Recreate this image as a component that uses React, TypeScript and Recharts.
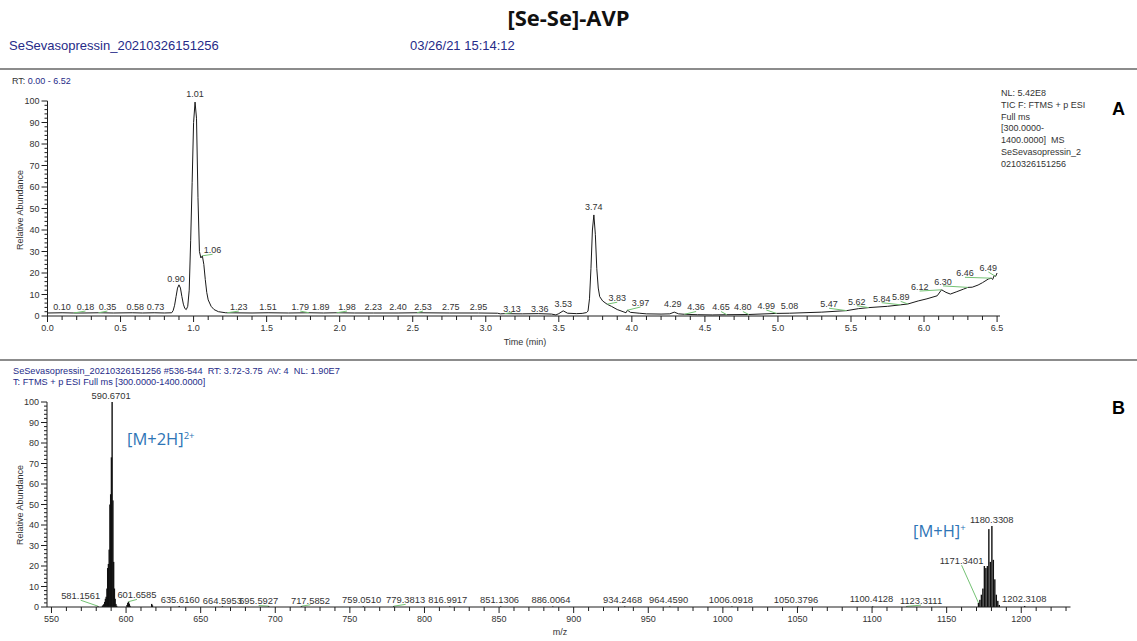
import React from 'react';
import { ComposedChart, Line, Bar, XAxis, YAxis, ReferenceDot, ReferenceLine } from 'recharts';

const FONT = '"Liberation Sans", Arial, Helvetica, sans-serif';
const NAVY = '#262b88';
const GREEN = '#74c274';
const AXIS = '#1e1e1e';
const TXT = '#333';
const BLUE = '#2e75b6';

// ---------- Panel A: TIC chromatogram ----------
const rtTimes = [
  0.00, 0.10, 0.18, 0.25, 0.35, 0.45, 0.58, 0.65, 0.73, 0.80, 0.85,
  0.86, 0.87, 0.88, 0.89, 0.90, 0.91, 0.92, 0.93, 0.94, 0.95, 0.96, 0.97, 0.98, 0.99,
  1.00, 1.01, 1.02, 1.03, 1.04, 1.05, 1.06, 1.07, 1.08, 1.09, 1.10, 1.12, 1.14, 1.17,
  1.22, 1.23, 1.40, 1.51, 1.65, 1.79, 1.89, 1.98, 2.10, 2.23, 2.40, 2.53, 2.75, 2.95,
  3.08, 3.10, 3.13, 3.25, 3.36, 3.45, 3.48, 3.50, 3.53, 3.56, 3.62, 3.66, 3.69,
  3.70, 3.71, 3.72, 3.73, 3.74, 3.75, 3.76, 3.77, 3.78, 3.80, 3.83, 3.86, 3.90, 3.94,
  3.96, 3.97, 3.99, 4.05, 4.10, 4.20, 4.26, 4.29, 4.32, 4.36, 4.45, 4.55, 4.65, 4.80,
  4.99, 5.08, 5.30, 5.47, 5.55, 5.62, 5.75, 5.84, 5.89, 5.96, 6.02, 6.09, 6.12, 6.15,
  6.18, 6.22, 6.27, 6.30, 6.33, 6.37, 6.40, 6.44, 6.46, 6.47, 6.48, 6.49, 6.50,
];
const rtAbundance = [
  1.4, 1.5, 1.4, 1.4, 1.5, 1.4, 1.5, 1.4, 1.5, 1.4, 1.5,
  2.5, 5, 9, 13, 14.5, 13, 9, 5.5, 3.5, 3, 4.5, 12, 35, 62,
  90, 99.5, 92, 55, 30, 27, 28, 24, 17, 11, 7.5, 4.5, 3, 2,
  1.5, 1.5, 1.4, 1.5, 1.4, 1.5, 1.4, 1.5, 1.4, 1.4, 1.4, 1.5, 1.4, 1.4,
  1.3, 1.0, 1.1, 1.0, 1.1, 0.9, 0.5, 1.1, 2.4, 1.3, 1.1, 1.2, 1.6,
  2.3, 8, 22, 40, 47, 38, 22, 13, 9, 7, 5.5, 4.5, 3, 2,
  1.5, 2.7, 1.7, 1.3, 1.0, 0.9, 1.0, 1.8, 1.0, 0.8, 0.6, 0.5, 0.6, 0.7,
  1.2, 1.3, 1.8, 2.5, 3.4, 3.9, 4.5, 5.2, 5.6, 7.0, 8.0, 9.4, 12.2, 11.0,
  10.2, 11.2, 12.5, 13.3, 13.4, 14.4, 15.5, 17.2, 17.6, 17.0, 18.8, 18.4, 20.0,
];
// [label, peak time, label centre time, label height]
const rtLabels: [string, number, number, number][] = [
  ['0.10', 0.10, 0.10, 4.3], ['0.18', 0.18, 0.26, 4.3], ['0.35', 0.35, 0.41, 4.3],
  ['0.58', 0.58, 0.60, 4.3], ['0.73', 0.73, 0.74, 4.3], ['0.90', 0.90, 0.88, 17.5],
  ['1.01', 1.01, 1.01, 103.6], ['1.06', 1.06, 1.13, 30.7], ['1.23', 1.23, 1.31, 4.3],
  ['1.51', 1.51, 1.51, 4.3], ['1.79', 1.79, 1.73, 4.3], ['1.89', 1.89, 1.87, 4.3],
  ['1.98', 1.98, 2.05, 4.3], ['2.23', 2.23, 2.23, 4.3], ['2.40', 2.40, 2.40, 4.3],
  ['2.53', 2.53, 2.57, 4.3], ['2.75', 2.75, 2.76, 4.3], ['2.95', 2.95, 2.95, 4.3],
  ['3.13', 3.13, 3.18, 3.6], ['3.36', 3.36, 3.37, 3.6], ['3.53', 3.53, 3.53, 5.9],
  ['3.74', 3.74, 3.74, 50.8], ['3.83', 3.83, 3.90, 8.4], ['3.97', 3.97, 4.06, 6.2],
  ['4.29', 4.29, 4.28, 5.6], ['4.36', 4.36, 4.44, 4.1], ['4.65', 4.65, 4.61, 4.1],
  ['4.80', 4.80, 4.76, 4.1], ['4.99', 4.99, 4.92, 4.8], ['5.08', 5.08, 5.08, 4.6],
  ['5.47', 5.47, 5.35, 5.6], ['5.62', 5.62, 5.54, 6.8], ['5.84', 5.84, 5.71, 8.2],
  ['5.89', 5.89, 5.84, 8.8], ['6.12', 6.12, 5.97, 13.6], ['6.30', 6.30, 6.13, 16.0],
  ['6.46', 6.46, 6.28, 20.0], ['6.49', 6.49, 6.44, 22.5],
];
const rtInfo = ['NL: 5.42E8', 'TIC F: FTMS + p ESI', 'Full ms', '[300.0000-', '1400.0000]  MS', 'SeSevasopressin_2', '0210326151256'];

// ---------- Panel B: mass spectrum ----------
const mzValues = [
  581.16, 584.2, 584.7, 585.2, 585.7, 586.2, 586.7, 587.2, 587.7, 588.2, 588.7, 589.2, 589.7, 590.2,
  590.67, 591.2, 591.7, 592.2, 592.7, 593.2, 593.7, 600.66, 601.16, 601.66, 602.16, 602.66,
  617.2, 617.7, 635.62, 664.60, 695.59, 717.59, 759.05, 779.38, 816.99, 851.13, 886.01,
  934.25, 964.46, 1006.09, 1050.38, 1100.41, 1123.31, 1171.34, 1172.3, 1173.3, 1174.3,
  1175.3, 1176.3, 1177.3, 1178.3, 1179.3, 1180.33, 1181.3, 1182.3, 1183.3, 1184.3,
  1185.3, 1202.31,
];
const mzAbundance = [
  0.4, 0.6, 1.0, 1.5, 2.5, 4, 5, 9, 19, 21, 28, 50, 55, 73,
  100, 52, 22, 9, 4, 1.5, 0.6, 1, 2, 2.6, 1.6, 0.6,
  1.5, 0.8, 0.5, 0.4, 0.4, 0.4, 0.3, 0.4, 0.3, 0.3, 0.3,
  0.3, 0.3, 0.3, 0.3, 0.3, 0.3, 2, 3.5, 6, 9,
  20, 19, 20, 38, 22, 39.5, 23, 13.5, 6, 3,
  1, 0.5,
];
// [label, peak m/z, label centre m/z, label height]
const mzLabels: [string, number, number, number][] = [
  ['581.1561', 581.16, 569.6, 5.5], ['590.6701', 590.67, 590.0, 103], ['601.6585', 601.66, 607.3, 5.9],
  ['635.6160', 635.62, 636.3, 3.8], ['664.5953', 664.60, 664.5, 2.9], ['695.5927', 695.59, 688.9, 2.9],
  ['717.5852', 717.59, 723.6, 3.3], ['759.0510', 759.05, 757.9, 3.8], ['779.3813', 779.38, 787.4, 3.5],
  ['816.9917', 816.99, 815.6, 3.8], ['851.1306', 851.13, 850.3, 3.8], ['886.0064', 886.01, 884.8, 3.8],
  ['934.2468', 934.25, 932.8, 3.8], ['964.4590', 964.46, 963.6, 3.8], ['1006.0918', 1006.09, 1005.4, 3.8],
  ['1050.3796', 1050.38, 1049.0, 3.8], ['1100.4128', 1100.41, 1099.6, 4.2], ['1123.3111', 1123.31, 1132.8, 3.1],
  ['1171.3401', 1171.34, 1160.0, 22.6], ['1180.3308', 1180.33, 1180.2, 42.4], ['1202.3108', 1202.31, 1202.0, 4.2],
];
const msHeader1 = 'SeSevasopressin_20210326151256 #536-544  RT: 3.72-3.75  AV: 4  NL: 1.90E7';
const msHeader2 = 'T: FTMS + p ESI Full ms [300.0000-1400.0000]';

// axis ticks
const timeMajor = [0, 0.5, 1, 1.5, 2, 2.5, 3, 3.5, 4, 4.5, 5, 5.5, 6, 6.5];
const mzMajor = [550, 600, 650, 700, 750, 800, 850, 900, 950, 1000, 1050, 1100, 1150, 1200];
const abMajor = [0, 10, 20, 30, 40, 50, 60, 70, 80, 90, 100];

const steps = (from: number, to: number, step: number) => {
  const out: number[] = [];
  const n = Math.round((to - from) / step);
  for (let i = 0; i <= n; i++) out.push(+(from + i * step).toFixed(4));
  return out;
};
const timeTicks = steps(0, 6.5, 0.1);
const mzTicks = steps(550, 1230, 10);
const abTicks = steps(0, 100, 2);

const isIn = (v: number, list: number[]) => list.some((m) => Math.abs(m - v) < 1e-6);

const rtData = rtTimes.map((t, i) => ({ t, v: rtAbundance[i] }));
const msData = mzValues.map((mz, i) => ({ mz, ab: mzAbundance[i] }));

const nearest = (arr: { x: number; y: number }[], x: number) =>
  arr.reduce((best, p) => (Math.abs(p.x - x) < Math.abs(best.x - x) ? p : best), arr[0]).y;
const rtPts = rtData.map((d) => ({ x: d.t, y: d.v }));
const msPts = msData.map((d) => ({ x: d.mz, y: d.ab }));

const makeXTick = (major: number[], fmt: (v: number) => string) => (props: any) => {
  const { x, y, payload } = props;
  const v = payload.value as number;
  const mj = isIn(v, major);
  return (
    <g>
      <line x1={x} y1={y} x2={x} y2={y + (mj ? 6 : 4)} stroke={AXIS} strokeWidth={1} />
      {mj && (
        <text x={x} y={y + 15} textAnchor="middle" fontSize={9} fill={TXT} fontFamily={FONT}>
          {fmt(v)}
        </text>
      )}
    </g>
  );
};
const makeYTick = () => (props: any) => {
  const { x, y, payload } = props;
  const v = payload.value as number;
  const mj = isIn(v, abMajor);
  return (
    <g>
      <line x1={x} y1={y} x2={x - (mj ? 6 : 3)} y2={y} stroke={AXIS} strokeWidth={1} />
      {mj && (
        <text x={x - 8} y={y + 3.2} textAnchor="end" fontSize={9} fill={TXT} fontFamily={FONT}>
          {v}
        </text>
      )}
    </g>
  );
};

const textShape = (label: string, size: number) => (p: any) => (
  <text x={p.cx} y={p.cy + size * 0.36} textAnchor="middle" fontSize={size} fill={TXT} fontFamily={FONT}>
    {label}
  </text>
);

const stick = (p: any) => {
  const cx = p.x + p.width / 2;
  if (!(p.height > 0)) return <g />;
  return <rect x={cx - 0.7} y={p.y} width={1.4} height={p.height} fill="#111" />;
};

const abs = (style: React.CSSProperties): React.CSSProperties => ({ position: 'absolute', whiteSpace: 'pre', ...style });

const ChartA = () => (
  <ComposedChart width={1137} height={360} data={rtData} margin={{ top: 101, right: 137, bottom: 0, left: 0 }}>
    <XAxis dataKey="t" type="number" domain={[0, 6.52]} ticks={timeTicks} interval={0} tickLine={false}
      tickSize={0} tickMargin={0} height={44} axisLine={{ stroke: AXIS }} tick={makeXTick(timeMajor, (v) => v.toFixed(1))} />
    <YAxis type="number" domain={[0, 100]} ticks={abTicks} interval={0} tickLine={false} tickSize={0}
      tickMargin={0} width={47.5} axisLine={{ stroke: AXIS }} tick={makeYTick()} />
    <Line dataKey="v" type="linear" stroke="#1a1a1a" strokeWidth={1} dot={false} isAnimationActive={false} />
    {rtLabels.filter((l) => Math.abs(l[2] - l[1]) >= 0.03).map((l) => (
      <ReferenceLine key={'ga' + l[0]} ifOverflow="visible" stroke={GREEN} strokeWidth={1}
        segment={[{ x: l[2], y: l[3] - 2 }, { x: l[1], y: nearest(rtPts, l[1]) }]} />
    ))}
    {rtLabels.map((l) => (
      <ReferenceDot key={'la' + l[0]} x={l[2]} y={l[3]} r={0} ifOverflow="visible" shape={textShape(l[0], 9)} />
    ))}
  </ComposedChart>
);

const ChartB = () => (
  <ComposedChart width={1137} height={281} data={msData} margin={{ top: 42, right: 66.5, bottom: 0, left: 0 }}>
    <XAxis dataKey="mz" type="number" domain={[547, 1233]} ticks={mzTicks} interval={0} tickLine={false}
      tickSize={0} tickMargin={0} height={34} axisLine={{ stroke: AXIS }} tick={makeXTick(mzMajor, (v) => String(v))} />
    <YAxis type="number" domain={[0, 100]} ticks={abTicks} interval={0} tickLine={false} tickSize={0}
      tickMargin={0} width={47} axisLine={{ stroke: AXIS }} tick={makeYTick()} />
    <Bar dataKey="ab" barSize={1} fill="#111" shape={stick} isAnimationActive={false} />
    {mzLabels.filter((l) => Math.abs(l[2] - l[1]) >= 2).map((l) => (
      <ReferenceLine key={'gb' + l[0]} ifOverflow="visible" stroke={GREEN} strokeWidth={1}
        segment={[{ x: l[2], y: l[3] - 2.2 }, { x: l[1], y: nearest(msPts, l[1]) }]} />
    ))}
    {mzLabels.map((l) => (
      <ReferenceDot key={'lb' + l[0]} x={l[2]} y={l[3]} r={0} ifOverflow="visible" shape={textShape(l[0], 9.4)} />
    ))}
  </ComposedChart>
);

export default function App() {
  return (
    <div style={{ position: 'absolute', left: 0, top: 0, width: 1137, height: 641, background: '#fff', overflow: 'hidden', fontFamily: FONT }}>
      <div style={abs({ left: 0, top: 0 })}><ChartA /></div>
      <div style={abs({ left: 0, top: 360 })}><ChartB /></div>

      <div style={abs({ left: 0, width: 1137, top: 2, textAlign: 'center', fontFamily: '"Open Sans", "Noto Sans", sans-serif', fontWeight: 700, fontSize: 22, lineHeight: '30px', color: '#111' })}>[Se-Se]-AVP</div>
      <div style={abs({ left: 9, top: 38, fontSize: 13, lineHeight: '16px', color: NAVY })}>SeSevasopressin_20210326151256</div>
      <div style={abs({ left: 410, top: 38, fontSize: 13, lineHeight: '16px', color: NAVY })}>03/26/21 15:14:12</div>
      <div style={abs({ left: 0, top: 68, width: 1137, height: 2, background: '#8c8c8c' })} />
      <div style={abs({ left: 12, top: 76, fontSize: 9, lineHeight: '11px', color: TXT })}>RT: <span style={{ color: NAVY }}>0.00 - 6.52</span></div>

      {rtInfo.map((s, i) => (
        <div key={s} style={abs({ left: 1001, top: 87 + i * 11.8, fontSize: 9, lineHeight: '12px', color: TXT })}>{s}</div>
      ))}
      <div style={abs({ left: 1112, top: 98, fontSize: 18, fontWeight: 700, lineHeight: '22px', color: '#000' })}>A</div>
      <div style={abs({ left: 1112, top: 397, fontSize: 18, fontWeight: 700, lineHeight: '22px', color: '#000' })}>B</div>

      <div style={abs({ left: -80, top: 204, width: 200, textAlign: 'center', fontSize: 9, lineHeight: '12px', color: TXT, transform: 'rotate(-90deg)' })}>Relative Abundance</div>
      <div style={abs({ left: -80, top: 499, width: 200, textAlign: 'center', fontSize: 9, lineHeight: '12px', color: TXT, transform: 'rotate(-90deg)' })}>Relative Abundance</div>
      <div style={abs({ left: 425, top: 336, width: 200, textAlign: 'center', fontSize: 9, lineHeight: '12px', color: TXT })}>Time (min)</div>

      <div style={abs({ left: 0, top: 359, width: 1137, height: 2, background: '#8c8c8c' })} />
      <div style={abs({ left: 13, top: 366, fontSize: 9.2, lineHeight: '11px', color: NAVY })}>{msHeader1}</div>
      <div style={abs({ left: 13, top: 377, fontSize: 9.2, lineHeight: '11px', color: NAVY })}>{msHeader2}</div>

      <div style={abs({ left: 127, top: 428, fontFamily: '"Open Sans", "Noto Sans", sans-serif', fontSize: 16.5, lineHeight: '22px', color: BLUE })}>
        [M+2H]<sup style={{ fontSize: 9.5, verticalAlign: 'top', position: 'relative', top: -3 }}>2+</sup>
      </div>
      <div style={abs({ left: 913, top: 520, fontFamily: '"Open Sans", "Noto Sans", sans-serif', fontSize: 16.5, lineHeight: '22px', color: BLUE })}>
        [M+H]<sup style={{ fontSize: 9.5, verticalAlign: 'top', position: 'relative', top: -3 }}>+</sup>
      </div>
      <div style={abs({ left: 460, top: 626, width: 200, textAlign: 'center', fontSize: 9, lineHeight: '12px', color: TXT })}>m/z</div>
    </div>
  );
}
